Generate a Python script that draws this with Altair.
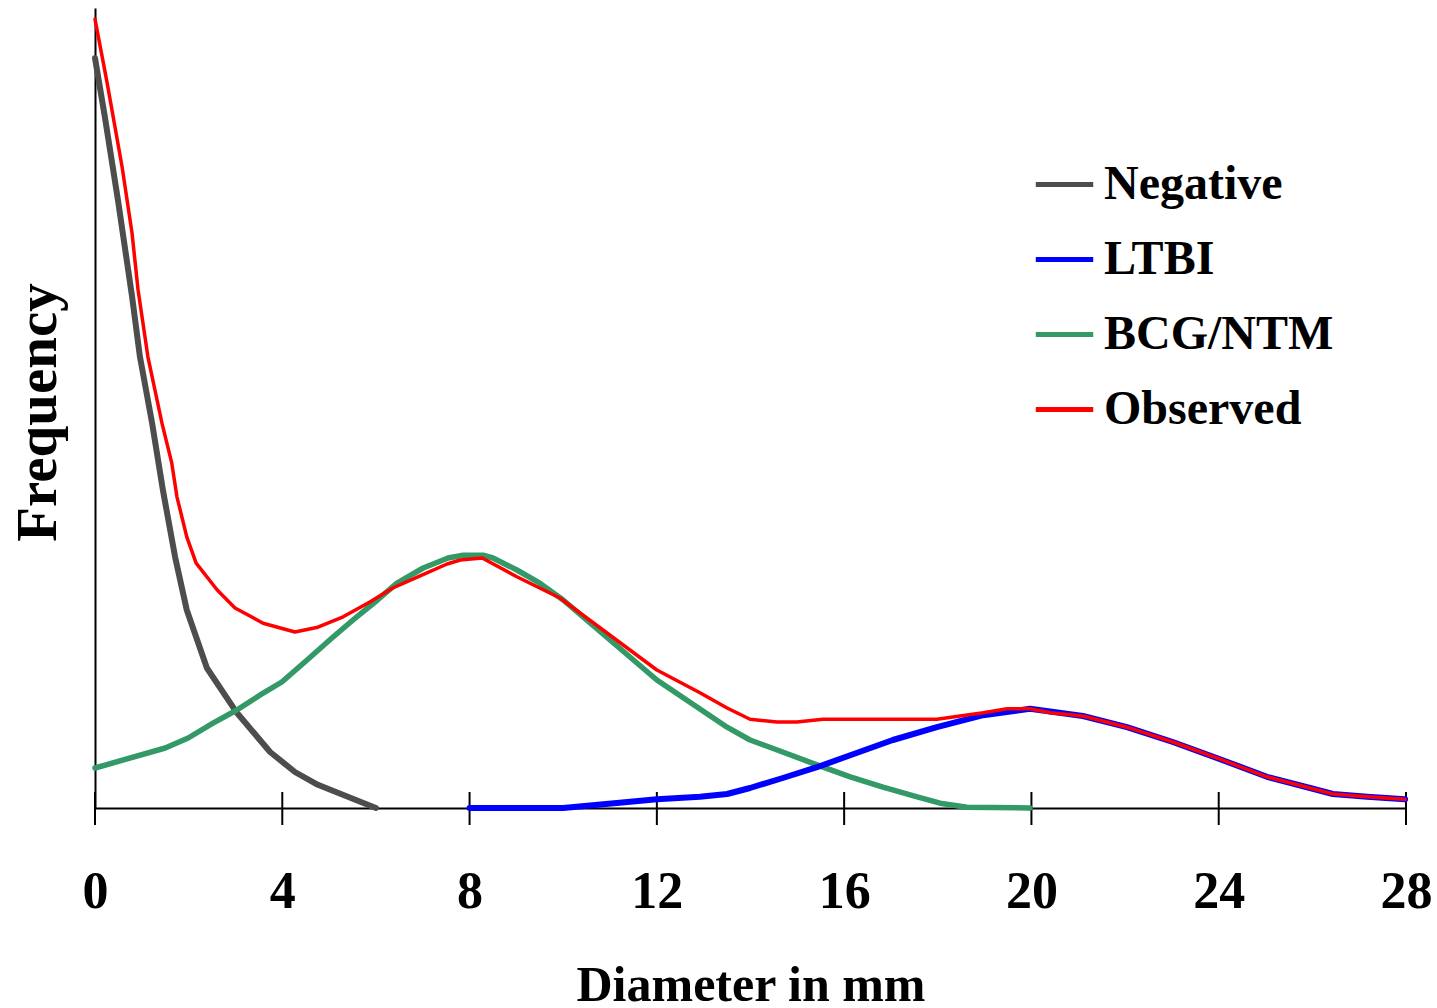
import altair as alt
import pandas as pd

# ---- data ----
neg_x = [0, 0.21, 0.49, 0.79, 0.96, 1.22, 1.45, 1.71, 1.96, 2.39, 3.03, 3.74, 4.27, 4.76, 6.0]
neg_y = [93.75, 86.4, 76.0, 64.0, 56.4, 48.1, 39.75, 31.4, 24.75, 17.5, 11.9, 7.0, 4.5, 2.9, 0.0]

ltbi_x = [8.0, 10.0, 12.0, 12.92, 13.5, 13.99, 14.69, 15.42, 16.13, 17.04, 17.98, 18.97, 19.97,
          21.1, 22.04, 23.02, 24.03, 25.03, 25.95, 26.44, 27.17, 27.98]
ltbi_y = [0.0, 0.0, 1.1, 1.4, 1.75, 2.5, 3.75, 5.1, 6.6, 8.5, 10.1, 11.6, 12.4,
          11.5, 10.1, 8.25, 6.1, 3.9, 2.5, 1.75, 1.4, 1.1]

bcg_x = [0, 1.5, 1.99, 2.52, 3.03, 3.52, 3.99, 4.53, 5.06, 5.51, 5.98, 6.45, 7.01, 7.54, 7.86,
         8.29, 8.5, 9.01, 9.5, 10.0, 12.0, 13.5, 13.99, 14.57, 15.42, 16.13, 16.83, 17.56, 18.05,
         18.62, 19.97]
bcg_y = [5.0, 7.5, 8.75, 10.6, 12.25, 14.1, 15.75, 18.5, 21.25, 23.5, 25.75, 28.1, 30.0, 31.25, 31.6,
         31.6, 31.25, 29.75, 28.1, 26.0, 16.0, 10.1, 8.5, 7.25, 5.4, 3.9, 2.6, 1.4, 0.6,
         0.1, 0.0]

obs_x = [0, 0.26, 0.58, 0.79, 0.92, 1.13, 1.43, 1.64, 1.75, 1.96, 2.16, 2.61, 2.99, 3.59, 4.27,
         4.76, 5.3, 5.87, 6.36, 6.98, 7.52, 7.8, 8.27, 9.01, 9.93, 12.0, 12.92, 13.5, 13.99,
         14.57, 14.99, 15.55, 17.98, 18.97, 19.48, 19.97, 20.4, 21.1, 22.04, 23.02, 24.03,
         25.03, 25.95, 26.44, 27.17, 27.98]
obs_y = [98.6, 90.6, 80.1, 71.9, 64.75, 56.4, 48.1, 43.1, 38.9, 33.9, 30.6, 27.25, 25.0, 23.1, 22.0,
         22.6, 23.9, 25.75, 27.5, 29.1, 30.5, 31.0, 31.25, 28.9, 26.25, 17.25, 14.4, 12.5, 11.1,
         10.75, 10.75, 11.1, 11.1, 11.9, 12.4, 12.4, 11.9, 11.5, 10.1, 8.25, 6.1,
         3.9, 2.5, 1.75, 1.4, 1.1]

series_names = ["Negative", "LTBI", "BCG/NTM", "Observed"]
series_colors = ["#4d4d4d", "#0000ff", "#339966", "#ff0000"]
series_widths = {"Negative": 6, "LTBI": 6, "BCG/NTM": 5.5, "Observed": 3.5}
tick_values = [0, 4, 8, 12, 16, 20, 24, 28]

rows = []
for name, xs, ys in [("Negative", neg_x, neg_y), ("LTBI", ltbi_x, ltbi_y),
                     ("BCG/NTM", bcg_x, bcg_y), ("Observed", obs_x, obs_y)]:
    for i, (a, b) in enumerate(zip(xs, ys)):
        rows.append({"series": name, "d": a, "f": b, "i": i})
df = pd.DataFrame(rows)
ticks_df = pd.DataFrame({"t": tick_values})

FONT = "Liberation Serif"
W, H = 1311, 800

xscale = alt.Scale(domain=[0, 28], nice=False, zero=False)
yscale = alt.Scale(domain=[0, 100], nice=False)

legend = alt.Legend(
    title=None, orient="none", legendX=938, legendY=145,
    symbolType="stroke", symbolSize=3300, symbolStrokeWidth=5,
    labelFont=FONT, labelFontWeight="bold", labelFontSize=48, labelColor="black",
    labelOffset=8, rowPadding=19, padding=0, labelLimit=0,
)

def layer_for(name):
    return alt.Chart(df).transform_filter(alt.datum.series == name).mark_line(
        strokeCap="round", strokeJoin="round", strokeWidth=series_widths[name]
    ).encode(
        x=alt.X("d:Q", scale=xscale, axis=alt.Axis(
            values=tick_values, ticks=False, tickSize=0, grid=False,
            domainColor="black", domainWidth=2,
            labelFont=FONT, labelFontWeight="bold", labelFontSize=52, labelColor="black",
            labelBaseline="alphabetic", labelPadding=99, labelFlush=False, labelOverlap=False,
            title="Diameter in mm", titleFont=FONT, titleFontWeight="bold", titleFontSize=50,
            titleColor="black", titleBaseline="alphabetic", titleY=192,
        )),
        y=alt.Y("f:Q", scale=yscale, axis=alt.Axis(
            labels=False, ticks=False, grid=False, domainColor="black", domainWidth=2,
            title="Frequency", titleFont=FONT, titleFontWeight="bold", titleFontSize=57,
            titleColor="black", titleAngle=270, titleAlign="center",
            titleBaseline="alphabetic", titleX=-40, titleY=404,
        )),
        color=alt.Color("series:N", scale=alt.Scale(domain=series_names, range=series_colors),
                        legend=legend),
        order="i:Q",
    )

tick_rules = alt.Chart(ticks_df).mark_rule(color="black", strokeWidth=2).encode(
    x=alt.X("t:Q", scale=xscale),
    y=alt.value(H - 16),
    y2=alt.value(H + 17),
)

chart = alt.layer(
    tick_rules,
    layer_for("Negative"),
    layer_for("BCG/NTM"),
    layer_for("LTBI"),
    layer_for("Observed"),
).properties(
    width=W, height=H,
    autosize=alt.AutoSizeParams(type="none"),
    padding={"left": 95, "top": 8, "right": 31, "bottom": 200},
    background="white",
).configure_view(stroke=None)

chart.save("out.html", embed_options={"renderer": "svg", "actions": False})
